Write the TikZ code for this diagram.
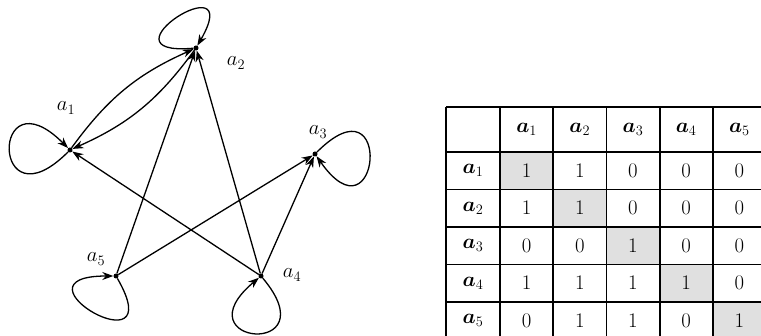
\documentclass[tikz,border=0pt]{standalone}
\usepackage{amsmath,bm}
\usetikzlibrary{arrows.meta,calc,positioning}

\tikzset{
  vtx/.style={circle,fill,inner sep=0pt,minimum size=5pt},
  arc/.style={-{Stealth[length=11pt,width=8pt]},line width=1.3pt},
  tabline/.style={line width=1.8pt},
  diagcell/.style={fill=black!12},
}

\begin{document}
\begin{tikzpicture}[x=1pt,y=1pt,font=\fontsize{21}{24}\selectfont]
  \useasboundingbox (0,0) rectangle (761,335);
  \clip (0,0) rectangle (761,335);
  % the graph
  \node[vtx] (a1) at (70,185) {};
  \node[vtx] (a2) at (196,287) {};
  \node[vtx] (a3) at (315,181) {};
  \node[vtx] (a4) at (261,59) {};
  \node[vtx] (a5) at (116,59) {};
  \node (l1) at (66,227) {$a_1$};
  \node (l2) at (236,272) {$a_2$};
  \node (l3) at (318,203) {$a_3$};
  \node (l4) at (292,60) {$a_4$};
  \node (l5) at (96,76) {$a_5$};
  \draw[arc] (a1) to[out=225,in=135,distance=110pt] (a1);
  \draw[arc] (a2) to[out=185,in=60,distance=100pt] (a2);
  \draw[arc] (a3) to[out=45,in=-55,distance=110pt] (a3);
  \draw[arc] (a4) to[out=-50,in=-140,distance=105pt] (a4);
  \draw[arc] (a5) to[out=-60,in=180,distance=110pt] (a5);
  \draw[arc] (a1) to[bend left=15] (a2);
  \draw[arc] (a2) to[bend left=15] (a1);
  \draw[arc] (a4) -- (a1);
  \draw[arc] (a4) -- (a2);
  \draw[arc] (a4) -- (a3);
  \draw[arc] (a5) -- (a2);
  \draw[arc] (a5) -- (a3);
  % the table
  \foreach \r in {1,...,5}
    \fill[diagcell] ({500+53.2*(\r-1)},{183-37.5*(\r-1)}) rectangle ++(53.2,-37.5);
  \foreach \y in {228,183,145.5,108,70.5,33}
    \draw[tabline] (446,\y) -- (770,\y);
  \foreach \x in {446,500,553.2,606.4,659.6,712.8}
    \draw[tabline] (\x,228) -- (\x,-5);
  \foreach \c in {1,...,5} {
    \node (h\c) at ({526.6+53.2*(\c-1)},205.5) {$\bm{a}_{\c}$};
    \node (r\c) at (473,{164.25-37.5*(\c-1)}) {$\bm{a}_{\c}$};
  }
  \foreach \r/\row in {1/{1,1,0,0,0},2/{1,1,0,0,0},3/{0,0,1,0,0},4/{1,1,1,1,0},5/{0,1,1,0,1}}
    \foreach \v [count=\c] in \row
      \node (m\r\c) at ({526.6+53.2*(\c-1)},{164.25-37.5*(\r-1)}) {$\v$};
\end{tikzpicture}
\end{document}
